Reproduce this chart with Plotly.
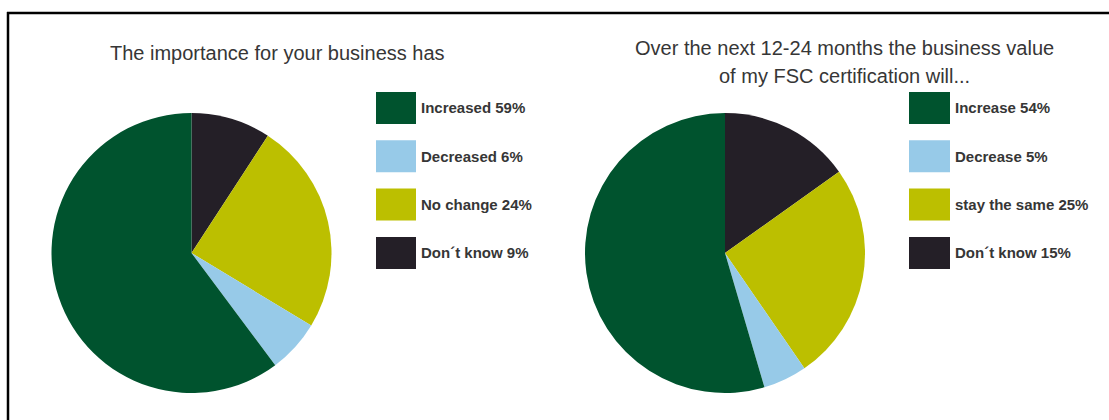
import plotly.graph_objects as go

W, H = 1109, 420

# Survey answers for the two questions
left_title = "The importance for your business has"
left_labels = ["Increased", "Decreased", "No change", "Don\u00b4t know"]
left_values = [59, 6, 24, 9]

right_title_lines = ["Over the next 12-24 months the business value",
                     "of my FSC certification will..."]
right_labels = ["Increase", "Decrease", "stay the same", "Don\u00b4t know"]
right_values = [54, 5, 25, 15]

colors = ["#00532e", "#97cae8", "#bcbf00", "#241f27"]
TEXT = "#363636"
FONT = "Liberation Sans, Arial, sans-serif"


def px_x(x):
    return x / W


def px_y(y):
    return 1 - y / H


def pie(labels, values, cx, cy, r):
    # slices laid clockwise from 12 o'clock in reverse order, so the first
    # category sweeps counter-clockwise from the top
    return go.Pie(
        labels=labels[::-1], values=values[::-1], sort=False,
        direction="clockwise", rotation=0,
        marker=dict(colors=colors[::-1], line=dict(width=0)),
        textinfo="none", showlegend=False,
        domain=dict(x=[px_x(cx - r), px_x(cx + r)],
                    y=[px_y(cy + r), px_y(cy - r)]),
    )


fig = go.Figure()
fig.add_trace(pie(left_labels, left_values, 191.5, 253, 140))
fig.add_trace(pie(right_labels, right_values, 725, 253, 140))

shapes = []
annotations = []

# Frame lines (top and left)
shapes.append(dict(type="line", xref="paper", yref="paper",
                   x0=px_x(7), x1=1.0, y0=px_y(13), y1=px_y(13),
                   line=dict(color="#000000", width=2.5)))
shapes.append(dict(type="line", xref="paper", yref="paper",
                   x0=px_x(8), x1=px_x(8), y0=px_y(12), y1=0,
                   line=dict(color="#000000", width=2.5)))


# Custom legend boxes beside each pie
def legend(labels, values, x0, x1, tx):
    for i, (lab, val) in enumerate(zip(labels, values)):
        cy = 108 + i * 48.3
        shapes.append(dict(type="rect", xref="paper", yref="paper",
                           x0=px_x(x0), x1=px_x(x1),
                           y0=px_y(cy + 16), y1=px_y(cy - 16),
                           fillcolor=colors[i], line=dict(width=0)))
        annotations.append(dict(xref="paper", yref="paper",
                                x=px_x(tx), y=px_y(cy), xanchor="left",
                                yanchor="middle", showarrow=False,
                                text=f"<b>{lab} {val}%</b>",
                                font=dict(family=FONT, size=15, color=TEXT)))


legend(left_labels, left_values, 376, 416, 419)
legend(right_labels, right_values, 909, 950, 953)

# Titles
annotations.append(dict(xref="paper", yref="paper", x=px_x(277), y=px_y(53),
                        xanchor="center", yanchor="middle", showarrow=False,
                        text=left_title,
                        font=dict(family=FONT, size=20, color=TEXT)))
for j, line in enumerate(right_title_lines):
    annotations.append(dict(xref="paper", yref="paper", x=px_x(844),
                            y=px_y(48 + j * 28), xanchor="center",
                            yanchor="middle", showarrow=False, text=line,
                            font=dict(family=FONT, size=20, color=TEXT)))

fig.update_layout(
    width=W, height=H,
    margin=dict(l=0, r=0, t=0, b=0),
    paper_bgcolor="white", plot_bgcolor="white",
    shapes=shapes, annotations=annotations,
)

fig.write_html("out.html")
